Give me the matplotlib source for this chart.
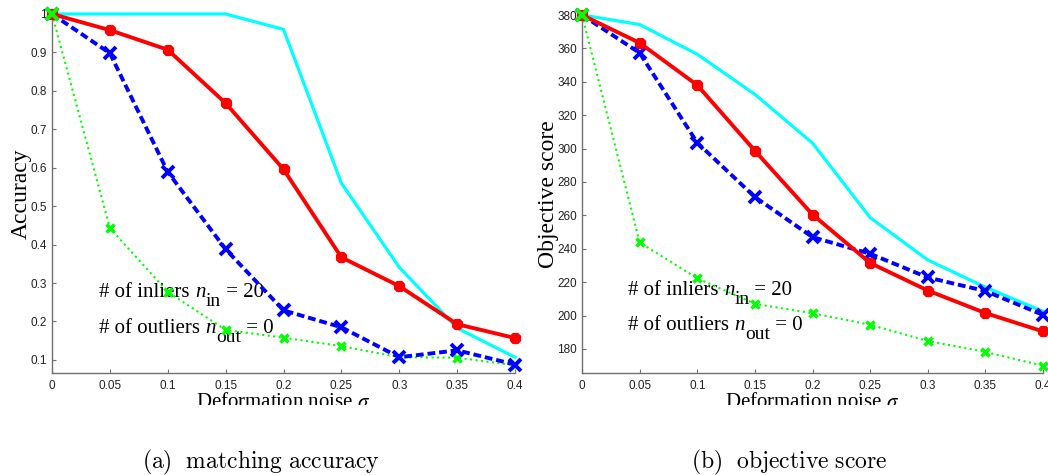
import matplotlib.pyplot as plt
from matplotlib.transforms import Bbox, TransformedBbox

# data
sigma = [0, 0.05, 0.1, 0.15, 0.2, 0.25, 0.3, 0.35, 0.4]

acc_red = [1.0, 0.958, 0.907, 0.768, 0.596, 0.367, 0.292, 0.193, 0.157]
acc_blue = [1.0, 0.898, 0.589, 0.388, 0.229, 0.185, 0.107, 0.125, 0.088]
acc_green = [1.0, 0.443, 0.277, 0.178, 0.158, 0.136, 0.107, 0.106, 0.086]
acc_cyan = [1.0, 1.0, 1.0, 1.0, 0.96, 0.56, 0.341, 0.183, 0.107]

obj_red = [380, 363.3, 338, 298.7, 260.5, 231.5, 215, 201.5, 190.5]
obj_blue = [380, 357.3, 303.5, 271, 247, 237, 222.8, 214.7, 200.4]
obj_green = [380, 243.8, 222.3, 207, 201.4, 194.5, 184.8, 178.2, 170]
obj_cyan = [380, 374.3, 356.5, 332.5, 303.3, 258.7, 233.3, 217, 202.5]

acc_ticks = [0.1, 0.2, 0.3, 0.4, 0.5, 0.6, 0.7, 0.8, 0.9, 1]
obj_ticks = [180, 200, 220, 240, 260, 280, 300, 320, 340, 360, 380]
x_ticks = [0, 0.05, 0.1, 0.15, 0.2, 0.25, 0.3, 0.35, 0.4]
x_ticklabels = ['0', '0.05', '0.1', '0.15', '0.2', '0.25', '0.3', '0.35', '0.4']

plt.rcParams['mathtext.fontset'] = 'cm'

W, H = 1048, 475
fig = plt.figure(figsize=(W / 100, H / 100), dpi=100)

ax1 = fig.add_axes([52 / W, 1 - 373 / H, 463 / W, 359 / H])
ax2 = fig.add_axes([582 / W, 1 - 373 / H, 461 / W, 358 / H])

# clip region for the cut-off axis label
clip = TransformedBbox(Bbox([[0, (H - 405) / H], [1, 1]]), fig.transFigure)


def draw(ax, red, blue, green, cyan, ylim, yticks, ylabel, ytl):
    ax.plot(sigma, cyan, color='#00ffff', lw=2.3, clip_on=False, zorder=2)
    ax.plot(sigma, green, color='#00ff00', lw=1.5, ls=':', marker='x',
            ms=6, mew=2.5, clip_on=False, zorder=3)
    ax.plot(sigma, blue, color='#0000ff', lw=2.8, ls=(0, (2, 1)), marker='x',
            ms=8, mew=2.8, clip_on=False, zorder=4)
    ax.plot(sigma, red, color='#ff0000', lw=2.8, marker=(8, 2, 0),
            ms=8, mew=3.2, clip_on=False, zorder=5)
    # green start marker on top
    ax.plot(sigma[:1], green[:1], color='#00ff00', marker='x', ms=9, mew=2.8,
            ls='none', clip_on=False, zorder=6)
    ax.set_xlim(0, 0.4)
    ax.set_ylim(*ylim)
    ax.set_xticks(x_ticks)
    ax.set_xticklabels(x_ticklabels)
    ax.set_yticks(yticks)
    ax.set_yticklabels(ytl)
    for s in ['top', 'right']:
        ax.spines[s].set_visible(False)
    for s in ['left', 'bottom']:
        ax.spines[s].set_color('#707070')
        ax.spines[s].set_linewidth(1.0)
    ax.tick_params(direction='in', length=3, color='#707070', labelsize=8.5,
                   labelcolor='#202020')
    ax.tick_params(axis='x', pad=5)
    for lab in ax.get_xticklabels() + ax.get_yticklabels():
        lab.set_family('Liberation Sans')
    ax.set_ylabel(ylabel, family='Liberation Serif', fontsize=17, labelpad=-1)
    xl = ax.set_xlabel(r'Deformation noise $\sigma$', family='Liberation Serif',
                       fontsize=15, labelpad=1)
    xl.set_math_fontfamily('stix')
    xl.set_clip_box(clip)
    xl.set_clip_on(True)


def note(ax, x, y, head, sub, tail):
    # text with a lowered subscript, built from pieces
    kw = dict(family='Liberation Serif', va='bottom', ha='left', zorder=1)
    t1 = ax.text(x, y, head, fontsize=15, **kw)
    t2 = ax.annotate('n', xy=(1, 0), xycoords=t1, fontsize=15,
                     style='italic', **kw)
    t3 = ax.annotate(sub, xy=(1, 0), xycoords=t2, xytext=(0, -6),
                     textcoords='offset points', fontsize=14, **kw)
    ax.annotate(tail, xy=(1, 0), xycoords=t3, xytext=(0, 6),
                textcoords='offset points', fontsize=15, **kw)


draw(ax1, acc_red, acc_blue, acc_green, acc_cyan, (0.066, 1.0), acc_ticks,
     'Accuracy', ['0.1', '0.2', '0.3', '0.4', '0.5', '0.6', '0.7', '0.8', '0.9', '1'])
draw(ax2, obj_red, obj_blue, obj_green, obj_cyan, (165.6, 380), obj_ticks,
     'Objective score', [str(t) for t in obj_ticks])

note(ax1, 0.041, 0.252, '# of inliers ', 'in', ' = 20')
note(ax1, 0.041, 0.158, '# of outliers ', 'out', ' = 0')
note(ax2, 0.040, 209.5, '# of inliers ', 'in', ' = 20')
note(ax2, 0.040, 188.5, '# of outliers ', 'out', ' = 0')

fig.text(261 / W, 1 - 462 / H, r'$\mathrm{(a)\ \ matching\ accuracy}$',
         fontsize=17, ha='center', va='center')
fig.text(789 / W, 1 - 462 / H, r'$\mathrm{(b)\ \ objective\ score}$',
         fontsize=17, ha='center', va='center')

fig.savefig('out.png', dpi=100)
